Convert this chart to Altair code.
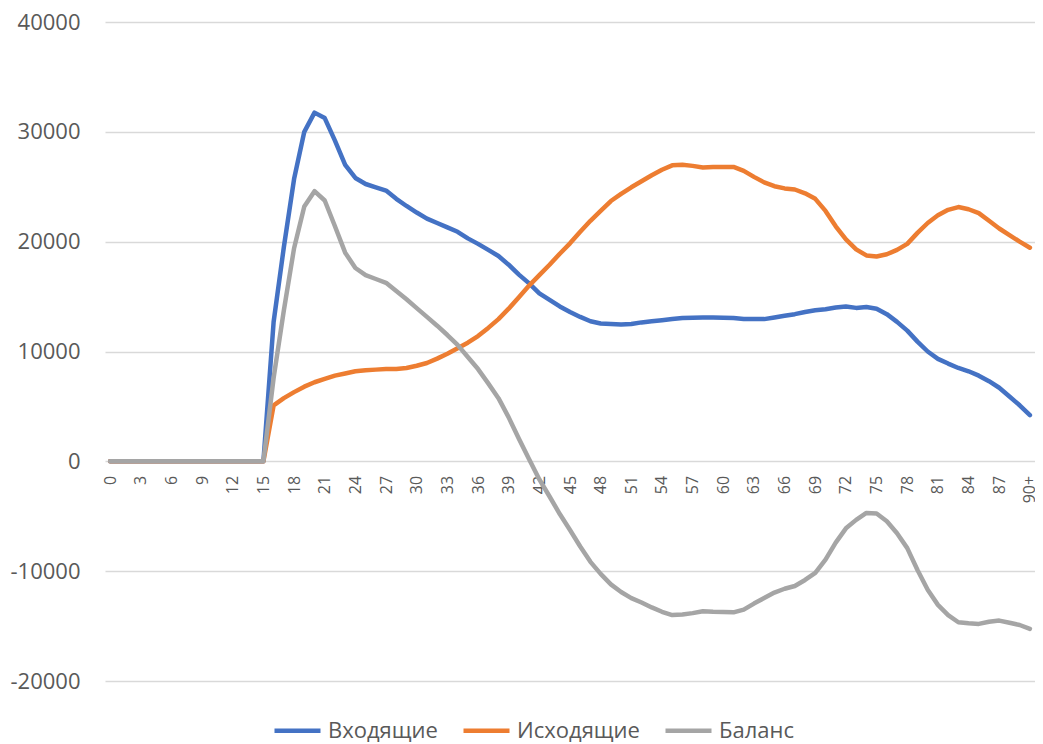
import altair as alt
import pandas as pd

categories = [str(i) for i in range(90)] + ["90+"]

incoming = [0] * 16 + [
    12700, 19500, 25700, 30000, 31750, 31250, 29200, 27000, 25800, 25250,   # 16-25
    24950, 24650, 23900, 23250, 22650, 22100, 21700, 21300, 20900, 20300,   # 26-35
    19800, 19250, 18700, 17900, 17000, 16200, 15300, 14700, 14100, 13600,   # 36-45
    13150, 12750, 12550, 12500, 12450, 12500, 12650, 12750, 12850, 12950,   # 46-55
    13050, 13080, 13100, 13100, 13080, 13050, 12950, 12950, 12950, 13100,   # 56-65
    13250, 13400, 13600, 13750, 13850, 14000, 14100, 13970, 14050, 13900,   # 66-75
    13400, 12700, 11900, 10900, 10000, 9330, 8900, 8500, 8200, 7800,        # 76-85
    7300, 6700, 5900, 5100, 4200,                                           # 86-90+
]

outgoing = [0] * 16 + [
    5100, 5750, 6300, 6800, 7200, 7500, 7800, 8000, 8200, 8300,             # 16-25
    8350, 8400, 8400, 8500, 8700, 8950, 9350, 9800, 10300, 10800,           # 26-35
    11400, 12150, 12950, 13900, 14950, 16000, 16950, 17900, 18900, 19850,   # 36-45
    20900, 21900, 22800, 23700, 24350, 24950, 25500, 26050, 26550, 26950,   # 46-55
    27000, 26900, 26750, 26800, 26800, 26800, 26450, 25900, 25400, 25050,   # 56-65
    24850, 24750, 24400, 23900, 22800, 21400, 20200, 19300, 18750, 18650,   # 66-75
    18850, 19250, 19800, 20800, 21700, 22400, 22900, 23150, 22950, 22600,   # 76-85
    21900, 21200, 20600, 20000, 19450,                                      # 86-90+
]

balance = [0] * 16 + [
    7600, 13750, 19400, 23200, 24600, 23750, 21400, 19000, 17600, 16950,    # 16-25
    16600, 16250, 15500, 14750, 13950, 13150, 12350, 11500, 10600, 9500,    # 26-35
    8400, 7100, 5750, 4000, 2050, 200, -1650, -3200, -4800, -6250,          # 36-45
    -7750, -9150, -10250, -11200, -11900, -12450, -12850, -13300, -13700, -14000,  # 46-55
    -13950, -13820, -13650, -13700, -13720, -13750, -13500, -12950, -12450, -11950,  # 56-65
    -11600, -11350, -10800, -10150, -8950, -7400, -6100, -5330, -4700, -4750,  # 66-75
    -5450, -6550, -7900, -9900, -11700, -13070, -14000, -14650, -14750, -14800,  # 76-85
    -14600, -14500, -14700, -14900, -15250,                                 # 86-90+
]

series_names = ["Входящие", "Исходящие", "Баланс"]
series_colors = ["#4472C4", "#ED7D31", "#A5A5A5"]
y_ticks = [-20000, -10000, 0, 10000, 20000, 30000, 40000]
x_label_values = [categories[i] for i in range(0, 91, 3)]

rows = []
for name, vals in zip(series_names, [incoming, outgoing, balance]):
    for c, v in zip(categories, vals):
        rows.append({"age": c, "value": v, "series": name})
df = pd.DataFrame(rows)

PLOT_W = 930
PLOT_H = 659
FONT = "Open Sans"
TXT = "#595959"

base = alt.Chart(df).mark_line(
    strokeWidth=4.5, strokeCap="round", strokeJoin="round"
).encode(
    x=alt.X(
        "age:O",
        sort=categories,
        scale=alt.Scale(type="point", padding=0.5),
        axis=alt.Axis(
            title=None,
            values=x_label_values,
            labelAngle=270,
            labelAlign="right",
            labelBaseline="middle",
            labelFontSize=16,
            labelFont=FONT,
            labelColor=TXT,
            labelPadding=14,
            labelOverlap=False,
            domain=False,
            ticks=False,
            grid=False,
            offset=-PLOT_H / 3.0,
        ),
    ),
    y=alt.Y(
        "value:Q",
        scale=alt.Scale(domain=[-20000, 40000], nice=False),
        axis=alt.Axis(
            title=None,
            values=y_ticks,
            labelExpr="datum.value < 0 ? '-' + format(-datum.value, 'd') : format(datum.value, 'd')",
            labelFontSize=22,
            labelFont=FONT,
            labelColor=TXT,
            labelPadding=25,
            domain=False,
            ticks=False,
            grid=True,
            gridColor="#D9D9D9",
            gridWidth=1.3,
        ),
    ),
    color=alt.Color(
        "series:N",
        scale=alt.Scale(domain=series_names, range=series_colors),
        legend=alt.Legend(
            title=None,
            orient="none",
            direction="horizontal",
            legendX=167,
            legendY=683,
            symbolType="stroke",
            symbolSize=2116,
            symbolStrokeWidth=4.5,
            labelFontSize=22,
            labelFont=FONT,
            labelColor=TXT,
            labelOffset=5,
            columnPadding=16,
            padding=0,
        ),
    ),
)

layers = [base.transform_filter(alt.datum.series == s) for s in series_names]

chart = alt.layer(*layers).properties(
    width=PLOT_W,
    height=PLOT_H,
    background="white",
    autosize=alt.AutoSizeParams(type="none"),
    padding={"left": 97, "top": 14, "right": 0, "bottom": 63},
).configure_view(
    stroke="transparent", strokeWidth=0
).configure_axis(
    domain=False, ticks=False
)

chart.save("out.html", embed_options={"renderer": "svg", "actions": False})
